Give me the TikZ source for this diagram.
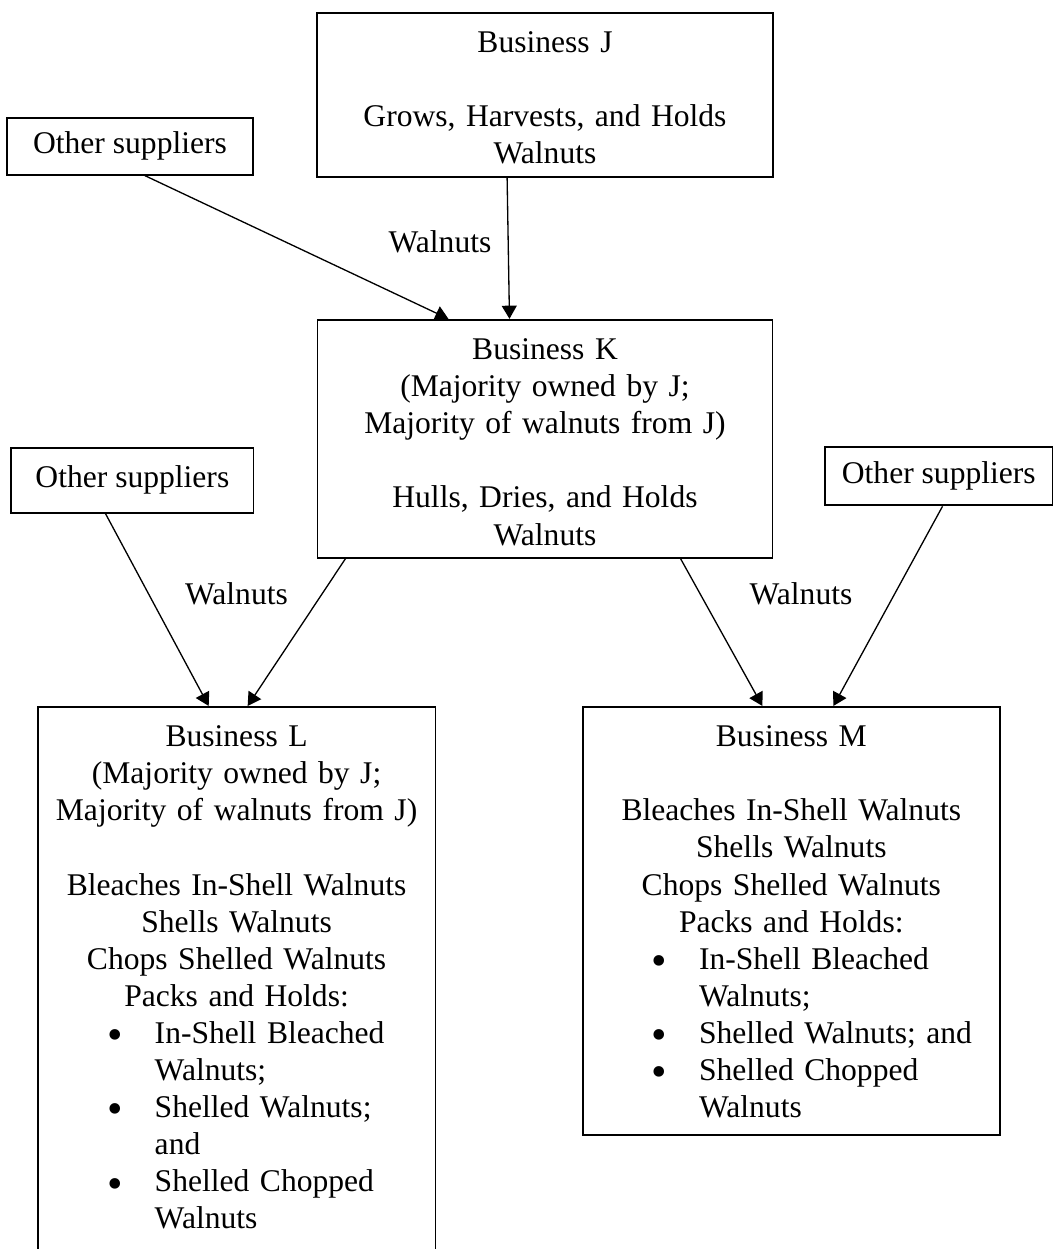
\documentclass[tikz,border=0pt]{standalone}
\usepackage{fontspec}
\setmainfont{Liberation Serif}
\usepackage{graphicx}
\usetikzlibrary{arrows.meta,positioning}

\newcommand{\bulletline}[2]{\makebox[#1][l]{\makebox[17.9pt][l]{\raisebox{-2.4pt}{\scalebox{1.4}{\textbullet}}}#2}}
\newcommand{\hangline}[2]{\makebox[#1][l]{\hspace*{17.9pt}#2}}

\begin{document}
\begin{tikzpicture}[
    x=0.38pt, y=-0.38pt,
    bizbox/.style={rectangle, draw, line width=0.7pt, align=center, inner xsep=0pt, inner ysep=6.6pt, text height=8.5pt, font=\fontsize{12pt}{14.1pt}\selectfont},
    supbox/.style={rectangle, draw, line width=0.7pt, inner sep=0pt, font=\fontsize{12pt}{14.1pt}\selectfont},
    flowlabel/.style={inner sep=0pt, font=\fontsize{12pt}{14.1pt}\selectfont},
    arrow/.style={->, >={Triangle[length=5pt,width=5.7pt]}, line width=0.5pt}
]
\useasboundingbox (0,0) rectangle (1058,1249);
\clip (0,0) rectangle (1058,1249);

% Grower
\node[bizbox, text width=173.3pt, text depth=40.6pt, anchor=north] (bizJ) at (545,12)
    {Business J\\[14.1pt]Grows, Harvests, and Holds\\Walnuts};
\node[supbox, minimum width=93.5pt, minimum height=21.7pt, left=23.6pt of bizJ.south west, anchor=south east, yshift=0.8pt] (sup1) {Other suppliers};

% Huller
\node[bizbox, text width=172.9pt, text depth=68.7pt, below=53.6pt of bizJ] (bizK)
    {Business K\\(Majority owned by J;\\Majority of walnuts from J)\\[14.1pt]Hulls, Dries, and Holds\\Walnuts};
\node[supbox, minimum width=92.1pt, minimum height=24.7pt, left=23.6pt of bizK.west, yshift=-15.8pt] (sup2) {Other suppliers};
\node[supbox, minimum width=86.4pt, minimum height=22.3pt, right=19.3pt of bizK.east, yshift=-14.2pt] (sup3) {Other suppliers};

% Processors
\node[bizbox, text width=151.2pt, text depth=250pt, below=56pt of bizK, xshift=-117.2pt] (bizL)
    {Business L\\(Majority owned by J;\\Majority of walnuts from J)\\[14.1pt]Bleaches In-Shell Walnuts\\Shells Walnuts\\Chops Shelled Walnuts\\Packs and Holds:\\
     \bulletline{98pt}{In-Shell Bleached}\\\hangline{98pt}{Walnuts;}\\
     \bulletline{98pt}{Shelled Walnuts;}\\\hangline{98pt}{and}\\
     \bulletline{98pt}{Shelled Chopped}\\\hangline{98pt}{Walnuts}};
\node[bizbox, text width=158.3pt, text depth=140.9pt, below=56pt of bizK, xshift=93.6pt] (bizM)
    {Business M\\[14.1pt]Bleaches In-Shell Walnuts\\Shells Walnuts\\Chops Shelled Walnuts\\Packs and Holds:\\
     \bulletline{105.9pt}{In-Shell Bleached}\\\hangline{105.9pt}{Walnuts;}\\
     \bulletline{105.9pt}{Shelled Walnuts; and}\\
     \bulletline{105.9pt}{Shelled Chopped}\\\hangline{105.9pt}{Walnuts}};

% Flow labels
\node[flowlabel] (lblK) at (440,242) {Walnuts};
\node[flowlabel] (lblL) at (236.5,594) {Walnuts};
\node[flowlabel] (lblM) at (801,594) {Walnuts};

% Arrows
\draw[arrow] ([xshift=5.7pt]sup1.south) -- ([xshift=-36.7pt]bizK.north);
\draw[arrow] ([xshift=-14.4pt]bizJ.south) -- ([xshift=-13.5pt]bizK.north);
\draw[arrow] ([xshift=-10.2pt]sup2.south) -- ([xshift=-10.6pt]bizL.north);
\draw[arrow] ([xshift=-75.8pt]bizK.south) -- ([xshift=4.2pt]bizL.north);
\draw[arrow] ([xshift=51.5pt]bizK.south) -- ([xshift=-11pt]bizM.north);
\draw[arrow] ([xshift=1.4pt]sup3.south) -- ([xshift=16pt]bizM.north);

\end{tikzpicture}
\end{document}
